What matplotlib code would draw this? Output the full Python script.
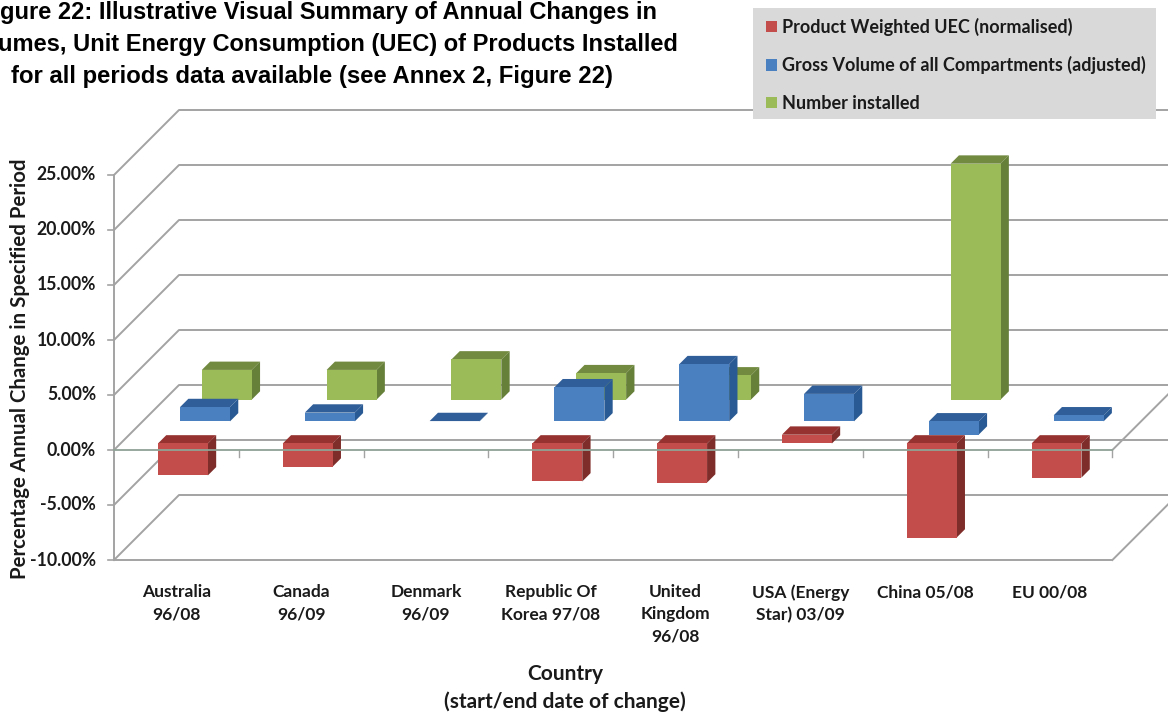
# coding: utf-8

import numpy as np
from matplotlib import pyplot as plt
from matplotlib.patches import Patch, Polygon, Rectangle

plt.rcParams['font.family'] = ['Lato', 'DejaVu Sans']

# percentage annual change
countries = ['Australia\n96/08', 'Canada\n96/09', 'Denmark\n96/09',
             'Republic Of\nKorea 97/08', 'United\nKingdom\n96/08',
             'USA (Energy\nStar) 03/09', 'China 05/08', 'EU 00/08']
uec = [-2.9, -2.1, 0, -3.45, -3.55, 0.8, -8.55, -3.1]
volume = [1.3, 0.8, 0.03, 3.1, 5.2, 2.5, -1.2, 0.55]
installed = [2.7, 2.7, 3.65, 2.4, 2.2, 0, 21.45, 0]
y_ticks = [-10, -5, 0, 5, 10, 15, 20, 25]

names = ['Product Weighted UEC (normalised)',
         'Gross Volume of all Compartments (adjusted)',
         'Number installed']
faces = ['#C24D4A', '#4A7FC0', '#9BBB59']
tops = ['#96322F', '#2F5E98', '#728A3F']
sides = ['#7F2D2A', '#2A5A94', '#667F39']
fronts = [0.1, 0.44, 0.775]

# caption as far as it is visible in the scan
title_lines = ['gure 22: Illustrative Visual Summary of Annual Changes in',
               'umes, Unit Energy Consumption (UEC) of Products Installed',
               'for all periods data available (see Annex 2, Figure 22)']

WIDTH, HEIGHT = 1168, 713
X0, Y0 = 114, 450  # pixel of the axes origin
CAT, UNIT = 124.8, 11  # pixels per category, per percent
DEPTH = 65  # pixels of the oblique projection
BAR_W, BAR_D = 0.4, 0.128
LINE = '#A3A3A3'
INK = '#1A1A1A'


def project(x, y, d):
  # oblique view: depth moves a point right and up on the page
  return x + d * DEPTH / CAT, y + d * DEPTH / UNIT


def draw_bar(ax, x, value, front, face, top, side):
  low, high = min(0, value), max(0, value)
  back = front + BAR_D
  x2 = x + BAR_W
  shapes = [
    ([(x, high, front), (x2, high, front), (x2, high, back), (x, high, back)], top),
    ([(x2, low, front), (x2, high, front), (x2, high, back), (x2, low, back)], side),
    ([(x, low, front), (x2, low, front), (x2, high, front), (x, high, front)], face),
  ]
  for corners, color in shapes:
    ax.add_patch(Polygon([project(*c) for c in corners], closed=True, facecolor=color,
                         edgecolor='none', zorder=3))


def page_text(fig, x, y, text, ha='center', **kwargs):
  fig.text(x / WIDTH, 1 - y / HEIGHT, text, ha=ha, va='center', **kwargs)


fig = plt.figure(figsize=(WIDTH / 100, HEIGHT / 100), dpi=100)
ax = fig.add_axes([0, 0, 1, 1])
ax.set_xlim(-X0 / CAT, (WIDTH - X0) / CAT)
ax.set_ylim((Y0 - HEIGHT) / UNIT, Y0 / UNIT)
ax.axis('off')

n_cat = len(countries)

# walls and floor
for tick in y_ticks:
  xs, ys = zip(project(0, tick, 0), project(0, tick, 1), project(n_cat, tick, 1))
  ax.plot(xs, ys, color=LINE, lw=1.4, zorder=1)
  ax.plot([-6 / CAT, 0], [tick, tick], color=LINE, lw=1.2, zorder=1)
  page_text(fig, 96, Y0 - tick * UNIT, '%.2f%%' % tick, ha='right', fontsize=12.7,
            fontweight='bold', color=INK)
ax.plot([0, 0], [y_ticks[0], y_ticks[-1]], color=LINE, lw=1.4, zorder=1)
ax.plot([0, n_cat], [-10, -10], color=LINE, lw=1.4, zorder=1)
for level in (-10, 0):
  xs, ys = zip(project(n_cat, level, 0), project(n_cat, level, 1))
  ax.plot(xs, ys, color=LINE, lw=1.4, zorder=1)
for i in range(1, n_cat + 1):
  ax.plot([i, i], [0, -7 / UNIT], color=LINE, lw=1.0, zorder=1)

# bars, back row first
series = [uec, volume, installed]
for s in (2, 1, 0):
  for i, value in enumerate(series[s]):
    if value != 0:
      draw_bar(ax, i + 0.3, value, fronts[s], faces[s], tops[s], sides[s])

# the zero line sits on top of the bars
ax.plot([0, n_cat], [0, 0], color='#8FA396', lw=1.3, zorder=4)

# category labels
for i, label in enumerate(countries):
  ax.text(i + 0.5, (Y0 - 584) / UNIT, label, ha='center', va='top', fontsize=12.5,
          fontweight='bold', color=INK, linespacing=1.5)

page_text(fig, 565, 688, 'Country\n(start/end date of change)', fontsize=15,
          fontweight='bold', color=INK, linespacing=1.5)
page_text(fig, 20, 369, 'Percentage Annual Change in Specified Period', fontsize=14.7,
          fontweight='bold', color=INK, rotation=90)

for x, y, size, line in zip((657, 678, 613), (12, 44, 76), (17.0, 17.0, 17.2), title_lines):
  page_text(fig, x, y, line, ha='right', fontsize=size, fontweight='bold',
            family='Liberation Sans', color='black')

# legend box is a separate patch so it can keep the size of the original
ax.add_patch(Rectangle((753 / WIDTH, 1 - 119 / HEIGHT), 403 / WIDTH, 111 / HEIGHT,
                       transform=fig.transFigure, facecolor='#D9D9D9', edgecolor='none',
                       zorder=5))
handles = [Patch(facecolor=c, edgecolor='none') for c in faces]
legend = ax.legend(handles, names, loc='upper left', bbox_to_anchor=(766 / WIDTH, 1 - 18 / HEIGHT),
                   bbox_transform=fig.transFigure, fontsize=13, frameon=False, handlelength=0.6,
                   handleheight=0.6, handletextpad=0.3, labelspacing=1.12, borderpad=0,
                   borderaxespad=0)
legend.set_zorder(6)
for text in legend.get_texts():
  text.set_fontweight('bold')
  text.set_color(INK)

fig.savefig('out.png', dpi=100, facecolor='white')
